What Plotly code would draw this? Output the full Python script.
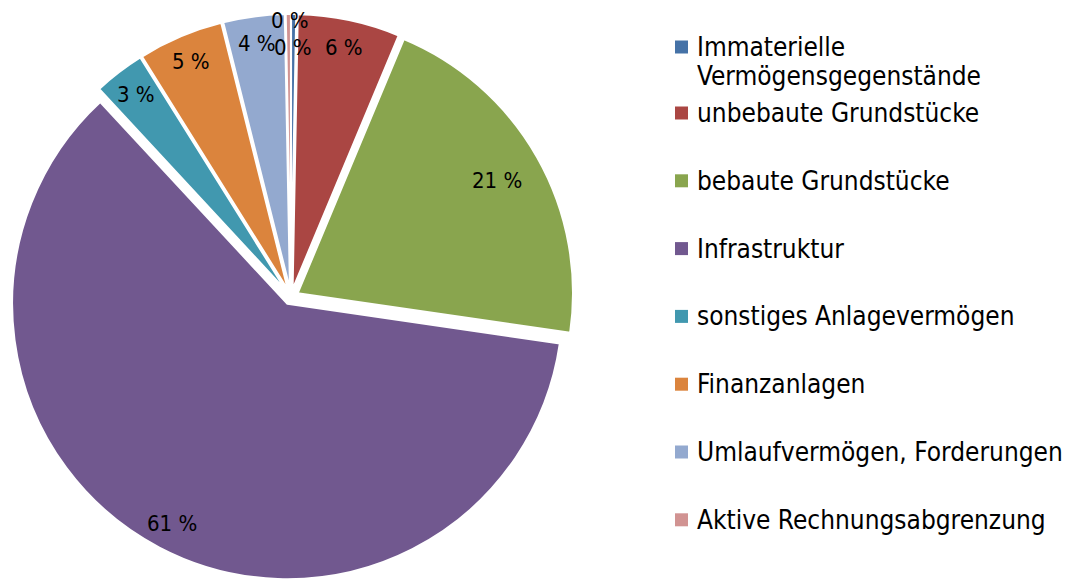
import math
import plotly.graph_objects as go

# ---- data ----
labels = [
    "Immaterielle\nVermögensgegenstände",
    "unbebaute Grundstücke",
    "bebaute Grundstücke",
    "Infrastruktur",
    "sonstiges Anlagevermögen",
    "Finanzanlagen",
    "Umlaufvermögen, Forderungen",
    "Aktive Rechnungsabgrenzung",
]
values = [0.3, 6.0, 21.0, 60.8, 3.0, 5.0, 3.6, 0.3]
colors = ["#4572A7", "#AA4643", "#89A54E", "#71588F",
          "#4198AF", "#DB843D", "#93A9CF", "#D19392"]

# ---- layout / style constants ----
W, H = 1070, 582
OFF = 8                    # default page body margin
CX, CY = 291 - OFF, 297 - OFF   # pie centre in figure px
HALF = CX                  # half size of pie domain in px
PULL = 0.028
R = HALF / (1 + PULL)
FONT = "DejaVu Sans Condensed, DejaVu Sans, Liberation Sans, sans-serif"
# radial position of each data label (fraction of radius)
LABEL_RF = [0.975, 0.9, 0.83, 0.9, 0.9, 0.9, 0.9, 0.88]
# small tangential nudge (px) for the crowded labels at the top
LABEL_DX = [-4, 0, 0, 0, 0, 0, 0, 4]

total = sum(values)
pct_text = [f"{round(v / total * 100)} %" for v in values]

fig = go.Figure()
fig.add_trace(go.Pie(
    labels=[l.replace("\n", " ") for l in labels],
    values=values,
    marker=dict(colors=colors, line=dict(color="white", width=2)),
    pull=[PULL] * len(values),
    sort=False,
    direction="clockwise",
    rotation=0,
    textinfo="none",
    hoverinfo="label+percent",
    showlegend=False,
    domain=dict(x=[(CX - HALF) / W, (CX + HALF) / W],
                y=[(H - CY - HALF) / H, (H - CY + HALF) / H]),
))

def px2paper(x, y):
    return x / W, 1 - y / H

annotations = []
shapes = []

# pie data labels, placed along each slice's bisector
cum = 0.0
for i, v in enumerate(values):
    frac = v / total
    mid = (cum + frac / 2) * 2 * math.pi
    cum += frac
    dist = PULL * R + LABEL_RF[i] * R
    x = CX + dist * math.sin(mid) + LABEL_DX[i]
    y = CY - dist * math.cos(mid)
    px, py = px2paper(x, y)
    annotations.append(dict(
        x=px, y=py, xref="paper", yref="paper", showarrow=False,
        text=pct_text[i], font=dict(family=FONT, size=22, color="black"),
        xanchor="center", yanchor="middle"))

# manual legend
LX_BOX, LX_TEXT = 675 - OFF, 697 - OFF - 2
BOX = 13
ROW0 = 47 - OFF
ROW1 = 113 - OFF
ROW_GAP = 67.8
LINE_GAP = 29
for i, lab in enumerate(labels):
    yc = ROW0 if i == 0 else ROW1 + ROW_GAP * (i - 1)
    x0, y0 = px2paper(LX_BOX, yc - BOX / 2)
    x1, y1 = px2paper(LX_BOX + BOX, yc + BOX / 2)
    shapes.append(dict(type="rect", xref="paper", yref="paper",
                       x0=x0, x1=x1, y0=y1, y1=y0,
                       fillcolor=colors[i], line=dict(width=0)))
    for j, line in enumerate(lab.split("\n")):
        tx, ty = px2paper(LX_TEXT, yc + j * LINE_GAP)
        annotations.append(dict(
            x=tx, y=ty, xref="paper", yref="paper", showarrow=False,
            text=line, font=dict(family=FONT, size=26, color="black"),
            xanchor="left", yanchor="middle"))

fig.update_layout(
    width=W, height=H,
    margin=dict(l=0, r=0, t=0, b=0),
    paper_bgcolor="white", plot_bgcolor="white",
    annotations=annotations, shapes=shapes,
)

fig.write_html("out.html")
